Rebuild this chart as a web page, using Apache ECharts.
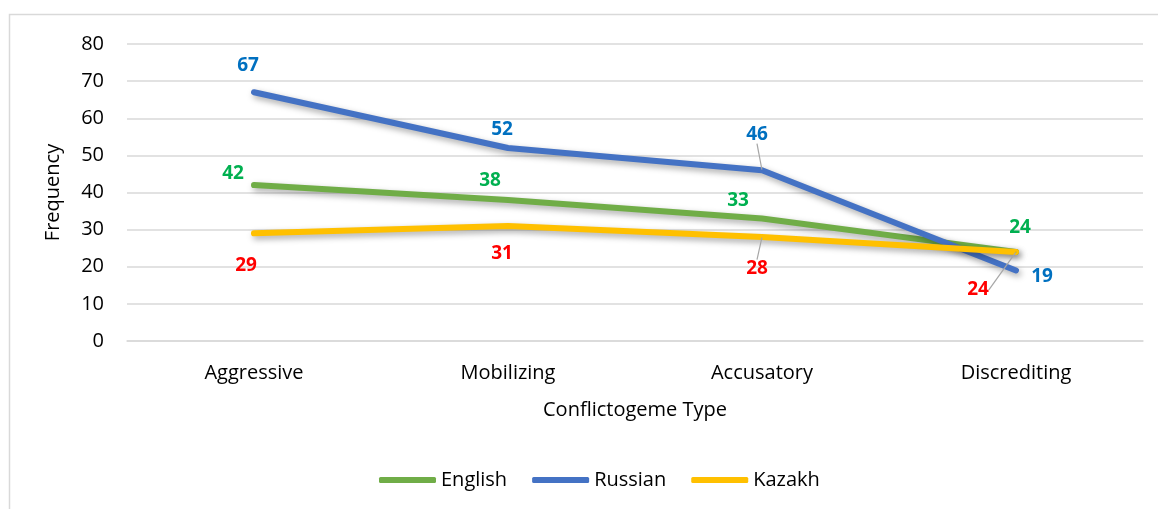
<!DOCTYPE html>
<html>
<head>
<meta charset="utf-8">
<script src="https://cdn.jsdelivr.net/npm/echarts@6/dist/echarts.min.js"></script>
<style>
html,body{margin:0;padding:0;background:#fff;}
#c{width:1158px;height:509px;}
</style>
</head>
<body>
<div id="c"></div>
<script>
const categories = ['Aggressive', 'Mobilizing', 'Accusatory', 'Discrediting'];
const english = [42, 38, 33, 24];
const russian = [67, 52, 46, 19];
const kazakh = [29, 31, 28, 24];
const yTicks = [0, 10, 20, 30, 40, 50, 60, 70, 80];

const FONT = '"Open Sans", sans-serif';

// label displacement (px) from each point, per series
const labelShift = {
  English: [[-21, -11], [-18, -19], [-24, -18], [4, -24]],
  Russian: [[-6, -27], [-6, -18], [-5, -36], [26, 6]],
  Kazakh: [[-8, 32], [-6, 28], [-5, 32], [-38, 38]]
};
const leaderOn = {
  English: [false, false, false, false],
  Russian: [false, false, true, false],
  Kazakh: [false, false, true, true]
};

function mkSeries(name, values, lineColor, labelColor) {
  return {
    name: name,
    type: 'line',
    data: values.map((v, i) => ({
      value: v,
      labelLine: { show: leaderOn[name][i] }
    })),
    symbol: 'circle',
    symbolSize: 1,
    showSymbol: true,
    itemStyle: { color: lineColor },
    lineStyle: {
      color: lineColor, width: 6, cap: 'round', join: 'round',
      shadowColor: 'rgba(0,0,0,0.35)', shadowBlur: 6, shadowOffsetX: 2, shadowOffsetY: 3
    },
    label: {
      show: true,
      position: 'inside',
      color: labelColor,
      fontFamily: FONT,
      fontWeight: 'bold',
      fontSize: 19
    },
    labelLine: {
      show: false,
      lineStyle: { color: '#a6a6a6', width: 1.2 }
    },
    labelLayout: function (p) {
      const arr = labelShift[name];
      if (p == null || p.dataIndex == null || !arr || !arr[p.dataIndex]) return {};
      const s = arr[p.dataIndex];
      return { dx: s[0], dy: s[1] };
    },
    emphasis: { disabled: true },
    animation: false,
    z: 2
  };
}

const chart = echarts.init(document.getElementById('c'), null, { renderer: 'canvas' });
chart.setOption({
  backgroundColor: '#fff',
  animation: false,
  graphic: [{
    type: 'rect',
    shape: { x: 9.5, y: 14.5, width: 1300, height: 600 },
    style: { fill: 'none', stroke: '#d9d9d9', lineWidth: 1.5 },
    silent: true, z: -10
  }],
  grid: { left: 127, right: 15, top: 44, bottom: 168 },
  legend: {
    data: ['English', 'Russian', 'Kazakh'],
    top: 465,
    left: 374,
    icon: 'roundRect',
    itemWidth: 57,
    itemHeight: 6,
    itemGap: 25,
    textStyle: { fontFamily: FONT, fontSize: 20, color: '#000' }
  },
  xAxis: {
    type: 'category',
    data: categories,
    boundaryGap: true,
    name: 'Conflictogeme Type',
    nameLocation: 'middle',
    nameGap: 59,
    nameTextStyle: { fontFamily: FONT, fontSize: 20, color: '#000' },
    axisLine: { show: true, lineStyle: { color: '#d9d9d9', width: 1.5 } },
    axisTick: { show: false },
    axisLabel: { fontFamily: FONT, fontSize: 20, color: '#000', margin: 22 }
  },
  yAxis: {
    type: 'value',
    min: yTicks[0],
    max: yTicks[yTicks.length - 1],
    interval: 10,
    name: 'Frequency',
    nameLocation: 'middle',
    nameGap: 64,
    nameTextStyle: { fontFamily: FONT, fontSize: 20, color: '#000' },
    axisLine: { show: false },
    axisTick: { show: false },
    splitLine: { lineStyle: { color: '#d9d9d9', width: 1.5 } },
    axisLabel: { fontFamily: FONT, fontSize: 20, color: '#000', margin: 23 }
  },
  series: [
    mkSeries('English', english, '#70AD47', '#00B050'),
    mkSeries('Russian', russian, '#4472C4', '#0070C0'),
    mkSeries('Kazakh', kazakh, '#FFC000', '#FF0000')
  ]
});
</script>
</body>
</html>
